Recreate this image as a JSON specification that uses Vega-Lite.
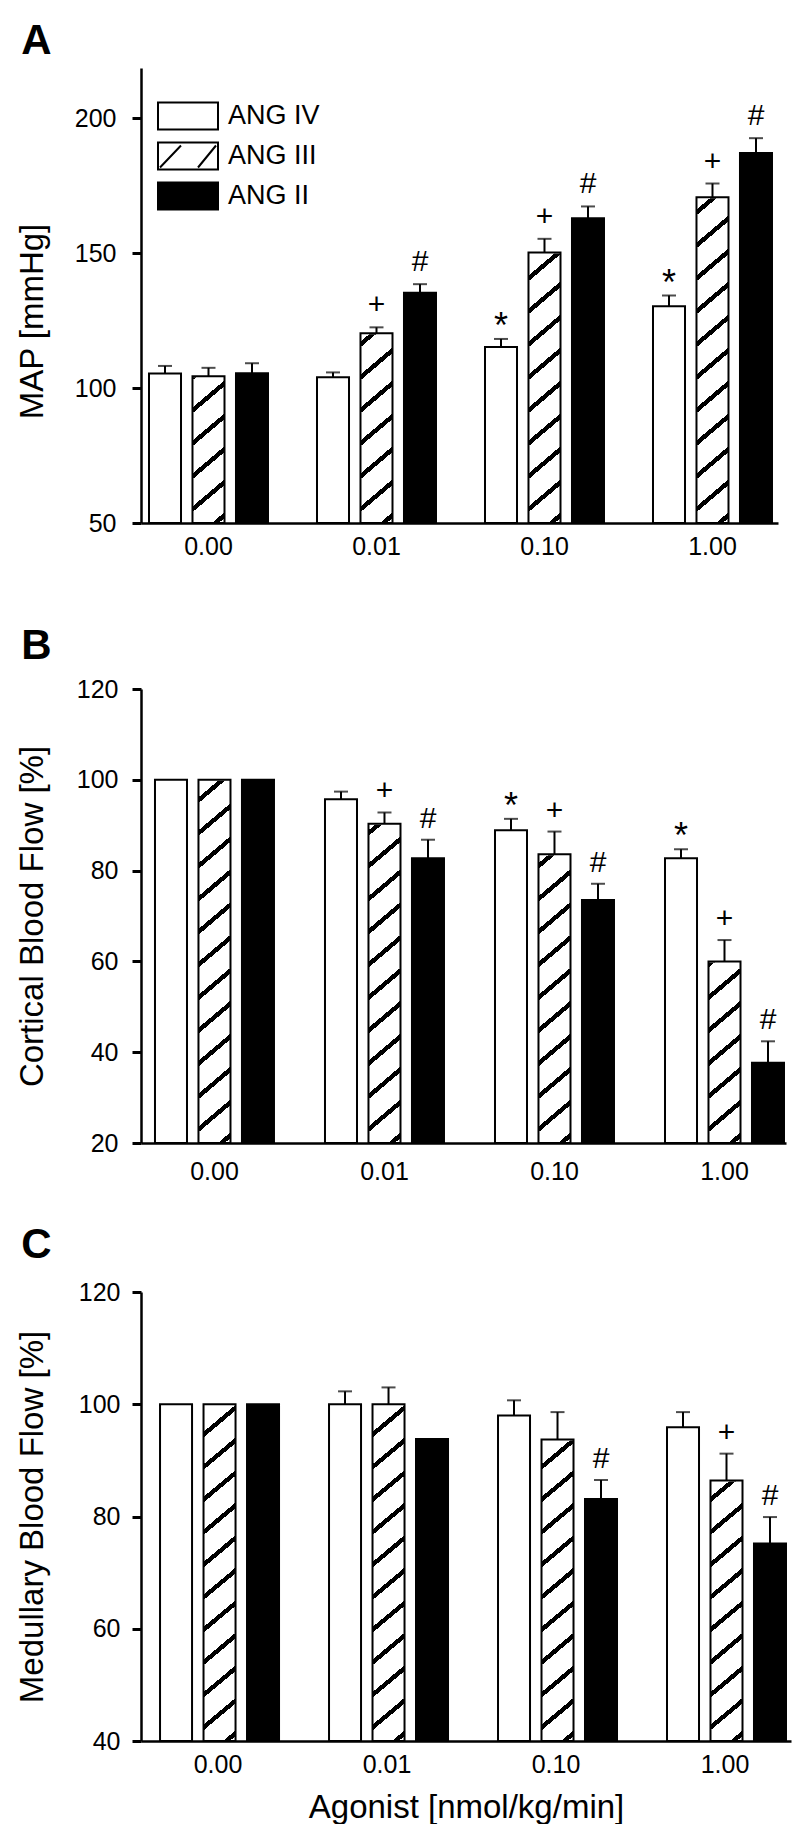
{
  "$schema": "https://vega.github.io/schema/vega-lite/v6.json",
  "background": "white",
  "padding": {"left": 16, "top": 20, "right": 5, "bottom": 0},
  "config": {
    "font": "Liberation Sans",
    "view": {"stroke": null},
    "axis": {"domainColor": "black", "domainWidth": 2.5, "tickColor": "black", "tickWidth": 3, "tickSize": 9, "labelFontSize": 25, "labelColor": "black", "titleFontSize": 33, "titleFontWeight": "normal", "titleColor": "black", "grid": false, "zindex": 1},
    "axisX": {"ticks": false, "labelPadding": 16, "labelAngle": 0},
    "title": {"fontSize": 42, "fontWeight": "bold", "anchor": "start", "color": "black", "dx": 5},
    "legend": {"orient": "none", "legendX": 31, "legendY": 32, "title": null, "padding": 0, "rowPadding": 4, "labelOffset": 24, "labelFontSize": 27, "labelColor": "black", "symbolType": "M-2,-0.9H2V0.9H-2Z", "symbolSize": 900, "symbolStrokeColor": "black", "symbolStrokeWidth": 2, "zindex": 1}
  },
  "datasets": {
    "rows": [
      {"panel": "A", "dose": "0.00", "agonist": "ANG IV", "mean": 105.4, "hi": 108.2, "sig": ""},
      {"panel": "A", "dose": "0.00", "agonist": "ANG III", "mean": 104.4, "hi": 107.5, "sig": ""},
      {"panel": "A", "dose": "0.00", "agonist": "ANG II", "mean": 105.5, "hi": 109.2, "sig": ""},
      {"panel": "A", "dose": "0.01", "agonist": "ANG IV", "mean": 104.0, "hi": 105.8, "sig": ""},
      {"panel": "A", "dose": "0.01", "agonist": "ANG III", "mean": 120.3, "hi": 122.5, "sig": "+"},
      {"panel": "A", "dose": "0.01", "agonist": "ANG II", "mean": 135.3, "hi": 138.5, "sig": "#"},
      {"panel": "A", "dose": "0.10", "agonist": "ANG IV", "mean": 115.2, "hi": 118.2, "sig": "*"},
      {"panel": "A", "dose": "0.10", "agonist": "ANG III", "mean": 150.2, "hi": 155.3, "sig": "+"},
      {"panel": "A", "dose": "0.10", "agonist": "ANG II", "mean": 162.9, "hi": 167.3, "sig": "#"},
      {"panel": "A", "dose": "1.00", "agonist": "ANG IV", "mean": 130.3, "hi": 134.3, "sig": "*"},
      {"panel": "A", "dose": "1.00", "agonist": "ANG III", "mean": 170.7, "hi": 175.8, "sig": "+"},
      {"panel": "A", "dose": "1.00", "agonist": "ANG II", "mean": 187.1, "hi": 192.6, "sig": "#"},
      {"panel": "B", "dose": "0.00", "agonist": "ANG IV", "mean": 100, "hi": null, "sig": ""},
      {"panel": "B", "dose": "0.00", "agonist": "ANG III", "mean": 100, "hi": null, "sig": ""},
      {"panel": "B", "dose": "0.00", "agonist": "ANG II", "mean": 100, "hi": null, "sig": ""},
      {"panel": "B", "dose": "0.01", "agonist": "ANG IV", "mean": 95.7, "hi": 97.4, "sig": ""},
      {"panel": "B", "dose": "0.01", "agonist": "ANG III", "mean": 90.3, "hi": 92.8, "sig": "+"},
      {"panel": "B", "dose": "0.01", "agonist": "ANG II", "mean": 82.7, "hi": 86.8, "sig": "#"},
      {"panel": "B", "dose": "0.10", "agonist": "ANG IV", "mean": 88.9, "hi": 91.4, "sig": "*"},
      {"panel": "B", "dose": "0.10", "agonist": "ANG III", "mean": 83.6, "hi": 88.6, "sig": "+"},
      {"panel": "B", "dose": "0.10", "agonist": "ANG II", "mean": 73.5, "hi": 77.1, "sig": "#"},
      {"panel": "B", "dose": "1.00", "agonist": "ANG IV", "mean": 82.7, "hi": 84.7, "sig": "*"},
      {"panel": "B", "dose": "1.00", "agonist": "ANG III", "mean": 60.0, "hi": 64.7, "sig": "+"},
      {"panel": "B", "dose": "1.00", "agonist": "ANG II", "mean": 37.7, "hi": 42.4, "sig": "#"},
      {"panel": "C", "dose": "0.00", "agonist": "ANG IV", "mean": 100, "hi": null, "sig": ""},
      {"panel": "C", "dose": "0.00", "agonist": "ANG III", "mean": 100, "hi": null, "sig": ""},
      {"panel": "C", "dose": "0.00", "agonist": "ANG II", "mean": 100, "hi": null, "sig": ""},
      {"panel": "C", "dose": "0.01", "agonist": "ANG IV", "mean": 100, "hi": 102.3, "sig": ""},
      {"panel": "C", "dose": "0.01", "agonist": "ANG III", "mean": 100, "hi": 103.0, "sig": ""},
      {"panel": "C", "dose": "0.01", "agonist": "ANG II", "mean": 93.8, "hi": null, "sig": ""},
      {"panel": "C", "dose": "0.10", "agonist": "ANG IV", "mean": 98.0, "hi": 100.7, "sig": ""},
      {"panel": "C", "dose": "0.10", "agonist": "ANG III", "mean": 93.7, "hi": 98.6, "sig": ""},
      {"panel": "C", "dose": "0.10", "agonist": "ANG II", "mean": 83.1, "hi": 86.5, "sig": "#"},
      {"panel": "C", "dose": "1.00", "agonist": "ANG IV", "mean": 95.9, "hi": 98.6, "sig": ""},
      {"panel": "C", "dose": "1.00", "agonist": "ANG III", "mean": 86.4, "hi": 91.2, "sig": "+"},
      {"panel": "C", "dose": "1.00", "agonist": "ANG II", "mean": 75.2, "hi": 79.9, "sig": "#"}
    ]
  },
  "resolve": {"scale": {"fill": "independent", "shape": "independent"}, "legend": {"fill": "independent", "shape": "independent"}},
  "columns": 1,
  "align": "none",
  "spacing": 39,
  "concat": [
    {
      "title": {"text": "A", "offset": 4},
      "width": 637,
      "height": 455,
      "data": {"name": "rows"},
      "transform": [{"filter": "datum.panel === 'A'"}],
      "encoding": {
        "x": {"field": "dose", "type": "nominal", "sort": ["0.00", "0.01", "0.10", "1.00"], "scale": {"paddingInner": 0.2917, "paddingOuter": 0.0417, "align": 0.571}, "axis": {"title": " ", "titleFontSize": 12, "titlePadding": 15, "labelPadding": 11}},
        "xOffset": {"field": "agonist", "type": "nominal", "sort": ["ANG IV", "ANG III", "ANG II"], "scale": {"paddingInner": 0.264, "paddingOuter": 0}}
      },
      "layer": [
        {
          "transform": [{"filter": "datum.agonist === 'ANG III'"}],
          "mark": {"type": "bar", "strokeWidth": 0, "fill": {"gradient": "linear", "x1": 0, "y1": 0, "x2": 0.0631, "y2": 1.056, "stops": [
            {"offset": 0, "color": "white"},
            {"offset": 0.02, "color": "white"}, {"offset": 0.02, "color": "black"}, {"offset": 0.032, "color": "black"}, {"offset": 0.032, "color": "white"},
            {"offset": 0.0884, "color": "white"}, {"offset": 0.0884, "color": "black"}, {"offset": 0.1004, "color": "black"}, {"offset": 0.1004, "color": "white"},
            {"offset": 0.1568, "color": "white"}, {"offset": 0.1568, "color": "black"}, {"offset": 0.1688, "color": "black"}, {"offset": 0.1688, "color": "white"},
            {"offset": 0.2252, "color": "white"}, {"offset": 0.2252, "color": "black"}, {"offset": 0.2372, "color": "black"}, {"offset": 0.2372, "color": "white"},
            {"offset": 0.2936, "color": "white"}, {"offset": 0.2936, "color": "black"}, {"offset": 0.3056, "color": "black"}, {"offset": 0.3056, "color": "white"},
            {"offset": 0.362, "color": "white"}, {"offset": 0.362, "color": "black"}, {"offset": 0.374, "color": "black"}, {"offset": 0.374, "color": "white"},
            {"offset": 0.4304, "color": "white"}, {"offset": 0.4304, "color": "black"}, {"offset": 0.4424, "color": "black"}, {"offset": 0.4424, "color": "white"},
            {"offset": 0.4988, "color": "white"}, {"offset": 0.4988, "color": "black"}, {"offset": 0.5108, "color": "black"}, {"offset": 0.5108, "color": "white"},
            {"offset": 0.5672, "color": "white"}, {"offset": 0.5672, "color": "black"}, {"offset": 0.5792, "color": "black"}, {"offset": 0.5792, "color": "white"},
            {"offset": 0.6356, "color": "white"}, {"offset": 0.6356, "color": "black"}, {"offset": 0.6476, "color": "black"}, {"offset": 0.6476, "color": "white"},
            {"offset": 0.704, "color": "white"}, {"offset": 0.704, "color": "black"}, {"offset": 0.716, "color": "black"}, {"offset": 0.716, "color": "white"},
            {"offset": 0.7724, "color": "white"}, {"offset": 0.7724, "color": "black"}, {"offset": 0.7844, "color": "black"}, {"offset": 0.7844, "color": "white"},
            {"offset": 0.8408, "color": "white"}, {"offset": 0.8408, "color": "black"}, {"offset": 0.8528, "color": "black"}, {"offset": 0.8528, "color": "white"},
            {"offset": 0.9092, "color": "white"}, {"offset": 0.9092, "color": "black"}, {"offset": 0.9212, "color": "black"}, {"offset": 0.9212, "color": "white"},
            {"offset": 0.9776, "color": "white"}, {"offset": 0.9776, "color": "black"}, {"offset": 0.9896, "color": "black"}, {"offset": 0.9896, "color": "white"},
            {"offset": 1, "color": "white"}]}},
          "encoding": {
            "y": {"datum": 218.6, "type": "quantitative", "scale": {"domain": [50, 218.6], "nice": false, "zero": false}},
            "y2": {"datum": 50}
          }
        },
        {
          "transform": [{"filter": "datum.agonist === 'ANG III'"}],
          "mark": {"type": "bar", "fill": "white", "stroke": "white", "strokeWidth": 2},
          "encoding": {"y": {"field": "mean", "type": "quantitative"}, "y2": {"datum": 218.6}}
        },
        {
          "mark": {"type": "bar", "stroke": "black", "strokeWidth": 2},
          "encoding": {
            "y": {"field": "mean", "type": "quantitative", "scale": {"domain": [50, 218.6], "nice": false, "zero": false}, "axis": {"title": "MAP [mmHg]", "values": [50, 100, 150, 200], "labelPadding": 16, "titlePadding": 25, "titleY": 253}},
            "y2": {"datum": 50},
            "fill": {"condition": {"test": "datum.agonist === 'ANG III'", "value": "transparent"}, "field": "agonist", "type": "nominal",
              "scale": {"domain": ["ANG IV", "ANG III", "ANG II"], "range": ["white", "white", "black"]}}
          }
        },
        {
          "transform": [{"filter": "false"}],
          "mark": {"type": "point", "filled": false, "stroke": "black", "strokeWidth": 2, "opacity": 1},
          "encoding": {
            "y": {"field": "mean", "type": "quantitative"},
            "shape": {"field": "agonist", "type": "nominal",
              "scale": {"domain": ["ANG IV", "ANG III", "ANG II"], "range": ["M-2,-0.9H2V0.9H-2Z", "M-2,-0.9H2V0.9H-2Z M-1.867,0.767L-0.467,-0.7 M0.667,0.767L1.867,-0.7", "M-2,-0.9H2V0.9H-2Z"]}}
          }
        },
        {
          "transform": [{"filter": "datum.hi != null"}],
          "mark": {"type": "rule", "strokeWidth": 2, "color": "black"},
          "encoding": {"y": {"field": "mean", "type": "quantitative"}, "y2": {"field": "hi"}}
        },
        {
          "transform": [{"filter": "datum.hi != null"}],
          "mark": {"type": "tick", "thickness": 2, "size": 14, "color": "black", "orient": "horizontal"},
          "encoding": {"y": {"field": "hi", "type": "quantitative"}}
        },
        {
          "transform": [{"filter": "datum.sig === '+' || datum.sig === '#'"}],
          "mark": {"type": "text", "fontSize": 30, "baseline": "middle", "dy": -22, "color": "black"},
          "encoding": {"y": {"field": "hi", "type": "quantitative"}, "text": {"field": "sig"}}
        },
        {
          "transform": [{"filter": "datum.sig === '*'"}],
          "mark": {"type": "text", "fontSize": 36, "baseline": "middle", "dy": -12, "color": "black"},
          "encoding": {"y": {"field": "hi", "type": "quantitative"}, "text": {"field": "sig"}}
        }
      ]
    },
    {
      "title": {"text": "B", "offset": 9.5},
      "width": 645,
      "height": 454,
      "data": {"name": "rows"},
      "transform": [{"filter": "datum.panel === 'B'"}],
      "encoding": {
        "x": {"field": "dose", "type": "nominal", "sort": ["0.00", "0.01", "0.10", "1.00"], "scale": {"paddingInner": 0.3, "paddingOuter": 0.047, "align": 0.875}, "axis": {"title": null}},
        "xOffset": {"field": "agonist", "type": "nominal", "sort": ["ANG IV", "ANG III", "ANG II"], "scale": {"paddingInner": 0.2326, "paddingOuter": 0}}
      },
      "layer": [
        {
          "transform": [{"filter": "datum.agonist === 'ANG III'"}],
          "mark": {"type": "bar", "strokeWidth": 0, "fill": {"gradient": "linear", "x1": 0, "y1": 0, "x2": 0.0631, "y2": 1.056, "stops": [
            {"offset": 0, "color": "white"},
            {"offset": 0.02, "color": "white"}, {"offset": 0.02, "color": "black"}, {"offset": 0.032, "color": "black"}, {"offset": 0.032, "color": "white"},
            {"offset": 0.0884, "color": "white"}, {"offset": 0.0884, "color": "black"}, {"offset": 0.1004, "color": "black"}, {"offset": 0.1004, "color": "white"},
            {"offset": 0.1568, "color": "white"}, {"offset": 0.1568, "color": "black"}, {"offset": 0.1688, "color": "black"}, {"offset": 0.1688, "color": "white"},
            {"offset": 0.2252, "color": "white"}, {"offset": 0.2252, "color": "black"}, {"offset": 0.2372, "color": "black"}, {"offset": 0.2372, "color": "white"},
            {"offset": 0.2936, "color": "white"}, {"offset": 0.2936, "color": "black"}, {"offset": 0.3056, "color": "black"}, {"offset": 0.3056, "color": "white"},
            {"offset": 0.362, "color": "white"}, {"offset": 0.362, "color": "black"}, {"offset": 0.374, "color": "black"}, {"offset": 0.374, "color": "white"},
            {"offset": 0.4304, "color": "white"}, {"offset": 0.4304, "color": "black"}, {"offset": 0.4424, "color": "black"}, {"offset": 0.4424, "color": "white"},
            {"offset": 0.4988, "color": "white"}, {"offset": 0.4988, "color": "black"}, {"offset": 0.5108, "color": "black"}, {"offset": 0.5108, "color": "white"},
            {"offset": 0.5672, "color": "white"}, {"offset": 0.5672, "color": "black"}, {"offset": 0.5792, "color": "black"}, {"offset": 0.5792, "color": "white"},
            {"offset": 0.6356, "color": "white"}, {"offset": 0.6356, "color": "black"}, {"offset": 0.6476, "color": "black"}, {"offset": 0.6476, "color": "white"},
            {"offset": 0.704, "color": "white"}, {"offset": 0.704, "color": "black"}, {"offset": 0.716, "color": "black"}, {"offset": 0.716, "color": "white"},
            {"offset": 0.7724, "color": "white"}, {"offset": 0.7724, "color": "black"}, {"offset": 0.7844, "color": "black"}, {"offset": 0.7844, "color": "white"},
            {"offset": 0.8408, "color": "white"}, {"offset": 0.8408, "color": "black"}, {"offset": 0.8528, "color": "black"}, {"offset": 0.8528, "color": "white"},
            {"offset": 0.9092, "color": "white"}, {"offset": 0.9092, "color": "black"}, {"offset": 0.9212, "color": "black"}, {"offset": 0.9212, "color": "white"},
            {"offset": 0.9776, "color": "white"}, {"offset": 0.9776, "color": "black"}, {"offset": 0.9896, "color": "black"}, {"offset": 0.9896, "color": "white"},
            {"offset": 1, "color": "white"}]}},
          "encoding": {
            "y": {"datum": 120, "type": "quantitative", "scale": {"domain": [20, 120], "nice": false, "zero": false}},
            "y2": {"datum": 20}
          }
        },
        {
          "transform": [{"filter": "datum.agonist === 'ANG III'"}],
          "mark": {"type": "bar", "fill": "white", "stroke": "white", "strokeWidth": 2},
          "encoding": {"y": {"field": "mean", "type": "quantitative"}, "y2": {"datum": 120}}
        },
        {
          "mark": {"type": "bar", "stroke": "black", "strokeWidth": 2},
          "encoding": {
            "y": {"field": "mean", "type": "quantitative", "scale": {"domain": [20, 120], "nice": false, "zero": false}, "axis": {"title": "Cortical Blood Flow [%]", "values": [20, 40, 60, 80, 100, 120], "labelPadding": 14, "titlePadding": 27}},
            "y2": {"datum": 20},
            "fill": {"condition": {"test": "datum.agonist === 'ANG III'", "value": "transparent"}, "field": "agonist", "type": "nominal", "scale": {"domain": ["ANG IV", "ANG III", "ANG II"], "range": ["white", "white", "black"]}, "legend": null}
          }
        },
        {
          "transform": [{"filter": "datum.hi != null"}],
          "mark": {"type": "rule", "strokeWidth": 2, "color": "black"},
          "encoding": {"y": {"field": "mean", "type": "quantitative"}, "y2": {"field": "hi"}}
        },
        {
          "transform": [{"filter": "datum.hi != null"}],
          "mark": {"type": "tick", "thickness": 2, "size": 14, "color": "black", "orient": "horizontal"},
          "encoding": {"y": {"field": "hi", "type": "quantitative"}}
        },
        {
          "transform": [{"filter": "datum.sig === '+' || datum.sig === '#'"}],
          "mark": {"type": "text", "fontSize": 30, "baseline": "middle", "dy": -21, "color": "black"},
          "encoding": {"y": {"field": "hi", "type": "quantitative"}, "text": {"field": "sig"}}
        },
        {
          "transform": [{"filter": "datum.sig === '*'"}],
          "mark": {"type": "text", "fontSize": 36, "baseline": "middle", "dy": -12, "color": "black"},
          "encoding": {"y": {"field": "hi", "type": "quantitative"}, "text": {"field": "sig"}}
        }
      ]
    },
    {
      "title": {"text": "C", "offset": 13.5},
      "width": 650,
      "height": 449,
      "data": {"name": "rows"},
      "transform": [{"filter": "datum.panel === 'C'"}],
      "encoding": {
        "x": {"field": "dose", "type": "nominal", "sort": ["0.00", "0.01", "0.10", "1.00"], "scale": {"paddingInner": 0.3136, "paddingOuter": 0.08, "align": 0.704}, "axis": {"title": "Agonist [nmol/kg/min]", "titlePadding": 14, "labelPadding": 11}},
        "xOffset": {"field": "agonist", "type": "nominal", "sort": ["ANG IV", "ANG III", "ANG II"], "scale": {"paddingInner": 0.238, "paddingOuter": 0}}
      },
      "layer": [
        {
          "transform": [{"filter": "datum.agonist === 'ANG III'"}],
          "mark": {"type": "bar", "strokeWidth": 0, "fill": {"gradient": "linear", "x1": 0, "y1": 0, "x2": 0.0631, "y2": 1.056, "stops": [
            {"offset": 0, "color": "white"},
            {"offset": 0.02, "color": "white"}, {"offset": 0.02, "color": "black"}, {"offset": 0.032, "color": "black"}, {"offset": 0.032, "color": "white"},
            {"offset": 0.0884, "color": "white"}, {"offset": 0.0884, "color": "black"}, {"offset": 0.1004, "color": "black"}, {"offset": 0.1004, "color": "white"},
            {"offset": 0.1568, "color": "white"}, {"offset": 0.1568, "color": "black"}, {"offset": 0.1688, "color": "black"}, {"offset": 0.1688, "color": "white"},
            {"offset": 0.2252, "color": "white"}, {"offset": 0.2252, "color": "black"}, {"offset": 0.2372, "color": "black"}, {"offset": 0.2372, "color": "white"},
            {"offset": 0.2936, "color": "white"}, {"offset": 0.2936, "color": "black"}, {"offset": 0.3056, "color": "black"}, {"offset": 0.3056, "color": "white"},
            {"offset": 0.362, "color": "white"}, {"offset": 0.362, "color": "black"}, {"offset": 0.374, "color": "black"}, {"offset": 0.374, "color": "white"},
            {"offset": 0.4304, "color": "white"}, {"offset": 0.4304, "color": "black"}, {"offset": 0.4424, "color": "black"}, {"offset": 0.4424, "color": "white"},
            {"offset": 0.4988, "color": "white"}, {"offset": 0.4988, "color": "black"}, {"offset": 0.5108, "color": "black"}, {"offset": 0.5108, "color": "white"},
            {"offset": 0.5672, "color": "white"}, {"offset": 0.5672, "color": "black"}, {"offset": 0.5792, "color": "black"}, {"offset": 0.5792, "color": "white"},
            {"offset": 0.6356, "color": "white"}, {"offset": 0.6356, "color": "black"}, {"offset": 0.6476, "color": "black"}, {"offset": 0.6476, "color": "white"},
            {"offset": 0.704, "color": "white"}, {"offset": 0.704, "color": "black"}, {"offset": 0.716, "color": "black"}, {"offset": 0.716, "color": "white"},
            {"offset": 0.7724, "color": "white"}, {"offset": 0.7724, "color": "black"}, {"offset": 0.7844, "color": "black"}, {"offset": 0.7844, "color": "white"},
            {"offset": 0.8408, "color": "white"}, {"offset": 0.8408, "color": "black"}, {"offset": 0.8528, "color": "black"}, {"offset": 0.8528, "color": "white"},
            {"offset": 0.9092, "color": "white"}, {"offset": 0.9092, "color": "black"}, {"offset": 0.9212, "color": "black"}, {"offset": 0.9212, "color": "white"},
            {"offset": 0.9776, "color": "white"}, {"offset": 0.9776, "color": "black"}, {"offset": 0.9896, "color": "black"}, {"offset": 0.9896, "color": "white"},
            {"offset": 1, "color": "white"}]}},
          "encoding": {
            "y": {"datum": 120, "type": "quantitative", "scale": {"domain": [40, 120], "nice": false, "zero": false}},
            "y2": {"datum": 40}
          }
        },
        {
          "transform": [{"filter": "datum.agonist === 'ANG III'"}],
          "mark": {"type": "bar", "fill": "white", "stroke": "white", "strokeWidth": 2},
          "encoding": {"y": {"field": "mean", "type": "quantitative"}, "y2": {"datum": 120}}
        },
        {
          "mark": {"type": "bar", "stroke": "black", "strokeWidth": 2},
          "encoding": {
            "y": {"field": "mean", "type": "quantitative", "scale": {"domain": [40, 120], "nice": false, "zero": false}, "axis": {"title": "Medullary Blood Flow [%]", "values": [40, 60, 80, 100, 120], "labelPadding": 12, "titlePadding": 29}},
            "y2": {"datum": 40},
            "fill": {"condition": {"test": "datum.agonist === 'ANG III'", "value": "transparent"}, "field": "agonist", "type": "nominal", "scale": {"domain": ["ANG IV", "ANG III", "ANG II"], "range": ["white", "white", "black"]}, "legend": null}
          }
        },
        {
          "transform": [{"filter": "datum.hi != null"}],
          "mark": {"type": "rule", "strokeWidth": 2, "color": "black"},
          "encoding": {"y": {"field": "mean", "type": "quantitative"}, "y2": {"field": "hi"}}
        },
        {
          "transform": [{"filter": "datum.hi != null"}],
          "mark": {"type": "tick", "thickness": 2, "size": 14, "color": "black", "orient": "horizontal"},
          "encoding": {"y": {"field": "hi", "type": "quantitative"}}
        },
        {
          "transform": [{"filter": "datum.sig === '+' || datum.sig === '#'"}],
          "mark": {"type": "text", "fontSize": 30, "baseline": "middle", "dy": -21, "color": "black"},
          "encoding": {"y": {"field": "hi", "type": "quantitative"}, "text": {"field": "sig"}}
        }
      ]
    }
  ]
}
